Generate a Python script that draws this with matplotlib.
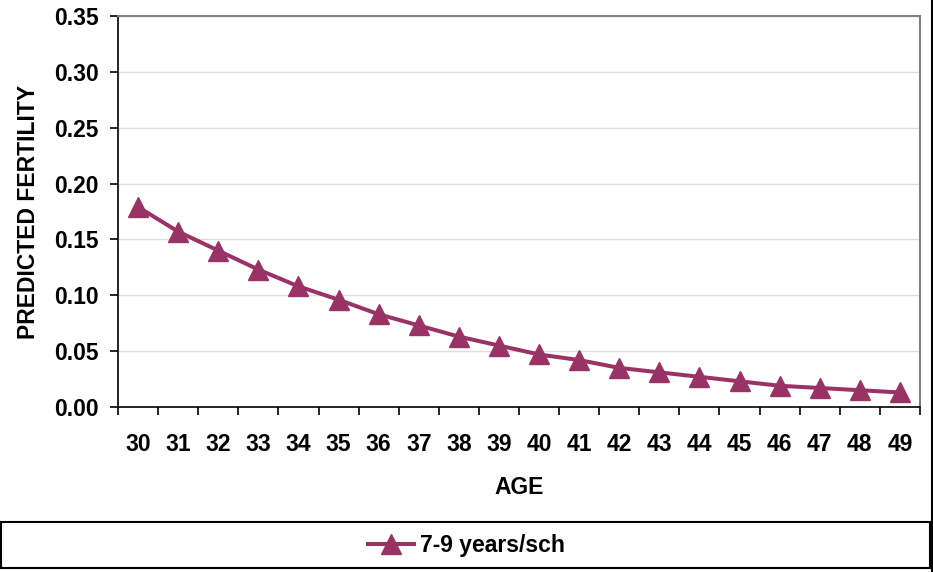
import matplotlib
matplotlib.use("Agg")
import matplotlib.pyplot as plt
from matplotlib.patches import Rectangle
from matplotlib.lines import Line2D
import numpy as np

ages = [30, 31, 32, 33, 34, 35, 36, 37, 38, 39, 40, 41, 42, 43, 44, 45, 46, 47, 48, 49]
fertility = [0.179, 0.157, 0.140, 0.123, 0.108, 0.096, 0.083, 0.073, 0.063, 0.055,
             0.047, 0.042, 0.035, 0.031, 0.027, 0.023, 0.019, 0.017, 0.015, 0.013]
yticks = [0.00, 0.05, 0.10, 0.15, 0.20, 0.25, 0.30, 0.35]
series_label = "7-9 years/sch"

plt.rcParams['font.family'] = ['Liberation Sans', 'DejaVu Sans']
plt.rcParams['font.weight'] = 'bold'

color = '#993366'
fs = 16.5

fig = plt.figure(figsize=(9.33, 5.72), dpi=100)
ax = fig.add_axes([0.1265, 0.2885, 0.8595, 0.6835])

pos = np.arange(len(ages))
ax.plot(pos, fertility, color=color, linewidth=2.9, marker='^', markersize=14,
        markeredgecolor=color, label=series_label)

ax.set_xlim(-0.5, len(ages) - 0.5)
ax.set_ylim(0, 0.35)
ax.set_yticks(yticks)
ax.set_yticklabels([f"{v:.2f}" for v in yticks], fontsize=fs, fontweight='bold')
ax.set_xticks(pos)
ax.set_xticklabels([str(a) for a in ages], fontsize=fs, fontweight='bold')
ax.set_xticks(np.arange(len(ages) + 1) - 0.5, minor=True)
ax.tick_params(axis='x', which='major', length=0, pad=19)
ax.tick_params(axis='x', which='minor', length=6, width=1.2, direction='out')
ax.tick_params(axis='y', length=6, width=1.2, direction='out', pad=8)

ax.grid(axis='y', color='#DDDDDD', linewidth=1)
ax.set_axisbelow(True)
for s in ['top', 'right']:
    ax.spines[s].set_color('#808080')
    ax.spines[s].set_linewidth(1.5)
for s in ['left', 'bottom']:
    ax.spines[s].set_color('black')
    ax.spines[s].set_linewidth(1.2)

ax.set_xlabel("AGE", fontsize=fs, fontweight='bold', labelpad=14)
ax.set_ylabel("PREDICTED FERTILITY", fontsize=fs, fontweight='bold', labelpad=10)

# legend box along the bottom
fig.patches.append(Rectangle((0.001, 0.007), 0.996, 0.080, transform=fig.transFigure,
                             fill=False, edgecolor='black', linewidth=1.5))
fig.lines.append(Line2D([0.9985, 0.9985], [0, 1], transform=fig.transFigure,
                        color='black', linewidth=1.5))
handle = Line2D([], [], color=color, linewidth=2.9, marker='^', markersize=14)
fig.legend([handle], [series_label], loc='center', bbox_to_anchor=(0.5, 0.047),
           frameon=False, fontsize=fs, handlelength=2.0, handletextpad=0.3)

fig.savefig("out.png", dpi=100)
